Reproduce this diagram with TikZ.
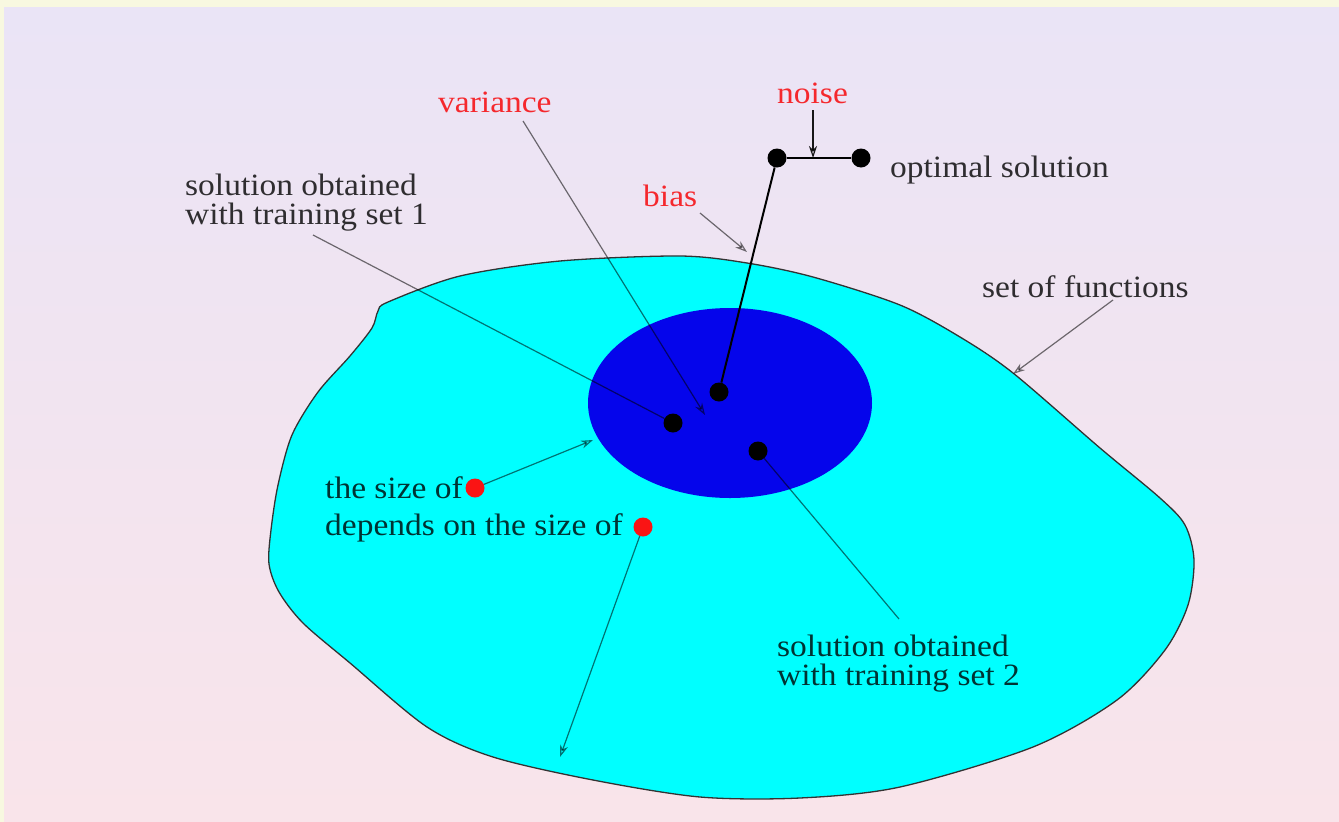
\documentclass[tikz,border=0pt]{standalone}
\usepackage{fontspec}
\setmainfont{Liberation Serif}[FakeStretch=1.08]
\usetikzlibrary{arrows.meta,shapes.geometric}
\definecolor{cream}{RGB}{248,248,224}
\definecolor{lavtop}{RGB}{234,228,246}
\definecolor{pinkbot}{RGB}{249,228,234}
\definecolor{cyanfill}{RGB}{0,255,255}
\definecolor{deepblue}{RGB}{5,5,235}
\definecolor{redtxt}{RGB}{245,40,45}
\definecolor{reddot}{RGB}{250,20,20}
\begin{document}
\begin{tikzpicture}[x=1pt,y=-1pt,
  lbl/.style={font=\fontsize{31}{29}\selectfont, text=black, text opacity=0.8, inner sep=0pt, anchor=base west, align=left},
  redlbl/.style={lbl, text=redtxt, text opacity=1},
  dot/.style={circle, fill=black, minimum size=19pt, inner sep=0pt},
  rdot/.style={dot, fill=reddot},
  thinarrow/.style={draw=black, draw opacity=0.55, line width=1.2pt, -{Stealth[open,length=12pt,width=8pt]}},
  thinline/.style={draw=black, draw opacity=0.55, line width=1.2pt},
  boldline/.style={draw=black, line width=2pt},
]
\fill[cream] (0,0) rectangle (1339,822);
\shade[top color=lavtop, bottom color=pinkbot] (4,7) rectangle (1339,822);
\useasboundingbox (0,0) rectangle (1339,822);

% set of functions
\draw[fill=cyanfill, draw=black!80, line width=1.3pt] plot[smooth cycle, tension=0.5] coordinates {
 (388,302) (460,276) (560,261) (680,256) (747,263) (813,277) (900,305) (960,337)
 (1013,373) (1100,448) (1160,498) (1185,525) (1194,560) (1188,605) (1165,650)
 (1117,700) (1033,747) (900,787) (800,798) (700,797) (593,780) (493,757) (427,727)
 (350,663) (303,623) (279,592) (269,564) (271,530) (278,485) (292,435) (318,392) (350,356)
 (372,328) (378,311)};

% spread of solutions
\node[ellipse, fill=deepblue, minimum width=284pt, minimum height=190pt, inner sep=0pt] (spread) at (730,403) {};

% dots
\node[dot] (s0) at (719,392) {};
\node[dot] (s1) at (673,423) {};
\node[dot] (s2) at (758,451) {};
\node[dot] (fb) at (777,158) {};
\node[dot] (opt) at (861,158) {};
\node[rdot] (r1) at (475,488) {};
\node[rdot] (r2) at (643,527) {};

% labels
\node[redlbl] (varL) at (438,112) {variance};
\node[redlbl] (noiseL) at (777,103) {noise};
\node[redlbl] (biasL) at (643,206) {bias};
\node[lbl] (optL) at (890,177) {optimal solution};
\node[lbl] (t1L) at (185,224) {solution obtained\\with training set 1};
\node[lbl] (sofL) at (982,297) {set of functions};
\node[lbl] (sz1) at (325,498) {the size of};
\node[lbl] (sz2) at (325,535) {depends on the size of};
\node[lbl] (t2L) at (777,685) {solution obtained\\with training set 2};

% connector ends
\coordinate (noiseS) at (813,110);
\coordinate (nbar) at (813,158);
\coordinate (varS) at (523,121);
\coordinate (varE) at (705,415);
\coordinate (biasS) at (700,213);
\coordinate (biasE) at (747,252);
\coordinate (t1S) at (313,235);
\coordinate (t2E) at (899,619);
\coordinate (sofS) at (1113,300);
\coordinate (sofE) at (1013,374);
\coordinate (sizeE) at (593,440);
\coordinate (depE) at (560,757);

% connectors
\draw[boldline] (fb) -- (opt);
\draw[boldline] (fb) -- (s0);
\draw[thinarrow, draw opacity=0.9] (noiseS) -- (nbar);
\draw[thinarrow] (varS) -- (varE);
\draw[thinarrow] (biasS) -- (biasE);
\draw[thinline] (t1S) -- (s1);
\draw[thinline] (s2) -- (t2E);
\draw[thinarrow] (sofS) -- (sofE);
\draw[thinarrow] (r1) -- (sizeE);
\draw[thinarrow] (r2) -- (depE);
\end{tikzpicture}
\end{document}
